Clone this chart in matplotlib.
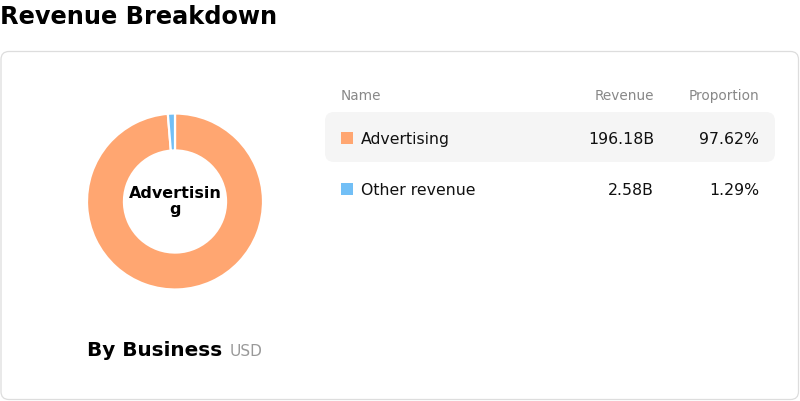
import matplotlib
matplotlib.use("Agg")
import matplotlib.pyplot as plt
from matplotlib.patches import FancyBboxPatch, Rectangle

plt.rcParams['font.family'] = ['DejaVu Sans']

# Data
names = ["Advertising", "Other revenue"]
revenue = [196.18, 2.58]
revenue_labels = ["196.18B", "2.58B"]
proportion_labels = ["97.62%", "1.29%"]
colors = ["#FFA671", "#72BFF6"]
title = "Revenue Breakdown"
subtitle = "By Business"
unit = "USD"
center_label = "Advertisin\ng"
headers = ["Name", "Revenue", "Proportion"]

W, H = 800, 402
fig = plt.figure(figsize=(W / 100, H / 100), dpi=100)
fig.patch.set_facecolor("white")

# Overlay axes in pixel coordinates
ax = fig.add_axes([0, 0, 1, 1])
ax.set_xlim(0, W)
ax.set_ylim(H, 0)
ax.axis("off")

def px(v):
    return v * 0.72

# Title
ax.text(0, 24, title, fontsize=px(24), fontweight="bold", color="#000000",
        ha="left", va="baseline")

# Card
card = FancyBboxPatch((1.0, 52.5), 797.5, 348, boxstyle="round,pad=0,rounding_size=8",
                      facecolor="white", edgecolor="#dddddd", linewidth=0.9)
ax.add_patch(card)

# Donut
cx, cy, R = 175, 202.5, 88
pax = fig.add_axes([(cx - R) / W, (H - (cy + R)) / H, 2 * R / W, 2 * R / H])
pax.pie(revenue, colors=colors, startangle=90, counterclock=False, radius=1.0,
        wedgeprops=dict(width=0.42, edgecolor="white", linewidth=1.6))
pax.set_xlim(-1, 1)
pax.set_ylim(-1, 1)
pax.set_aspect("equal")
pax.axis("off")
pax.text(0, 0.01, center_label, fontsize=px(16), fontweight="bold", color="#000000",
         ha="center", va="center", linespacing=1.1, multialignment="center")

# Subtitle
ax.text(87, 356, subtitle, fontsize=px(20), fontweight="bold", color="#000000",
        ha="left", va="baseline")
ax.text(230, 356, unit, fontsize=px(15.4), color="#999999", ha="left", va="baseline")

# Table header
hdr_y = 100
ax.text(341, hdr_y, headers[0], fontsize=px(13.6), color="#888888", ha="left", va="baseline")
ax.text(654, hdr_y, headers[1], fontsize=px(13.6), color="#888888", ha="right", va="baseline")
ax.text(759, hdr_y, headers[2], fontsize=px(13.6), color="#888888", ha="right", va="baseline")

# Highlighted row background
hl = FancyBboxPatch((325, 113), 450, 50, boxstyle="round,pad=0,rounding_size=9",
                    facecolor="#f5f5f5", edgecolor="none")
ax.add_patch(hl)

row_centers = [138.5, 189.5]
row_baselines = [144, 195]
for i, name in enumerate(names):
    yc = row_centers[i]
    yb = row_baselines[i]
    ax.add_patch(Rectangle((341, yc - 6), 12, 12, facecolor=colors[i], edgecolor="none"))
    ax.text(361, yb, name, fontsize=px(15.7), color="#111111", ha="left", va="baseline")
    ax.text(654, yb, revenue_labels[i], fontsize=px(15.7), color="#111111", ha="right", va="baseline")
    ax.text(759, yb, proportion_labels[i], fontsize=px(15.7), color="#111111", ha="right", va="baseline")

fig.savefig("out.png", dpi=100, facecolor="white")
